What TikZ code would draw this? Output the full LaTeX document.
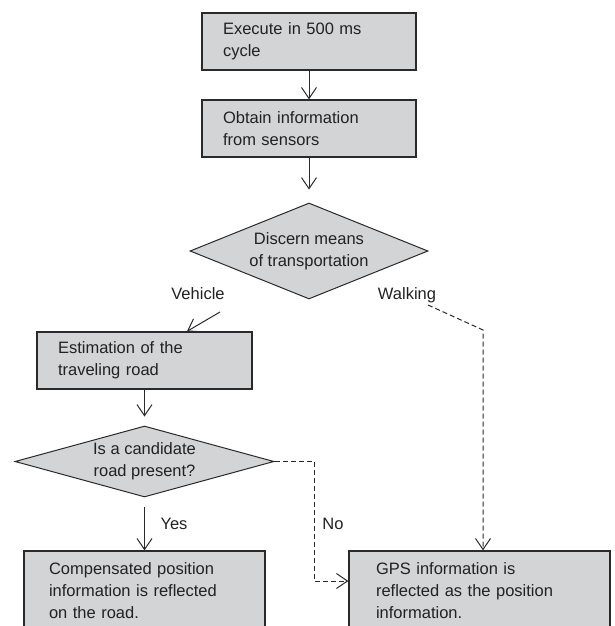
\documentclass[tikz,border=0pt]{standalone}
\usepackage{fontspec}
\setmainfont{Liberation Sans}
\usetikzlibrary{shapes.geometric,arrows.meta}
\definecolor{boxfill}{HTML}{D3D4D6}
\definecolor{edge}{HTML}{2A2A2A}
\definecolor{ink}{HTML}{222222}
\tikzset{
  every node/.style={text=ink, font=\fontsize{16.5}{22}\selectfont},
  procbox/.style={draw=edge, line width=1.3pt, fill=boxfill, rectangle, align=left, inner ysep=0pt},
  decision/.style={draw=edge, line width=1pt, fill=boxfill, diamond, align=center, inner sep=0pt},
  arr/.style={draw=edge, line width=1pt, -{Straight Barb[length=11pt,width=15pt,line width=1pt]}},
  dasharr/.style={arr, dash pattern=on 5pt off 3pt},
  lbl/.style={inner sep=0pt}
}
\begin{document}
\begin{tikzpicture}[x=1pt,y=-1pt]
\useasboundingbox (0,0) rectangle (614,626);
\clip (0,0) rectangle (614,626);
% process boxes
\node[procbox, inner xsep=21pt, text width=172pt, minimum height=57pt] (b1) at (309,41.5) {Execute in 500 ms\\cycle};
\node[procbox, inner xsep=21pt, text width=172pt, minimum height=57pt] (b2) at (309,128.5) {Obtain information\\from sensors};
\node[decision, minimum width=238pt, minimum height=96pt, aspect=2.48] (d1) at (309,251) {Discern means\\of transportation};
\node[procbox, inner xsep=21pt, text width=173pt, minimum height=57pt] (b3) at (144.5,360.5) {Estimation of the\\traveling road};
\node[decision, minimum width=259pt, minimum height=71pt, aspect=3.65] (d2) at (144.5,461.5) {Is a candidate\\road present?};
\node[procbox, inner xsep=25pt, text width=191pt, minimum height=80pt] (b4) at (144.5,591) {Compensated position\\information is reflected\\on the road.};
\node[procbox, inner xsep=27pt, text width=207pt, minimum height=80pt] (gps) at (479.5,591) {GPS information is\\reflected as the position\\information.};
% labels
\node[lbl] (lveh) at (198,294) {Vehicle};
\node[lbl] (lwalk) at (407,295) {Walking};
\node[lbl] (lyes) at (174,524) {Yes};
\node[lbl] (lno) at (333,524) {No};
% helper coordinates
\coordinate (vs) at (220,312);
\coordinate (ws) at (428,305);
\coordinate (wc) at (483,330);
\coordinate (nc) at (314,581);
% connectors
\draw[arr] (b1.south) -- (b2.north);
\draw[arr] (b2.south) -- ([yshift=13pt]d1.north);
\draw[arr] (vs) -- ([xshift=42.5pt]b3.north);
\draw[dasharr] (ws) -- (wc) -- (gps.north -| wc);
\draw[arr] (b3.south) -- ([yshift=9pt]d2.north);
\draw[arr] ([yshift=-9pt]d2.south) -- (b4.north);
\draw[dasharr] (d2.east) -| (nc) -- (nc -| gps.west);
\end{tikzpicture}
\end{document}
